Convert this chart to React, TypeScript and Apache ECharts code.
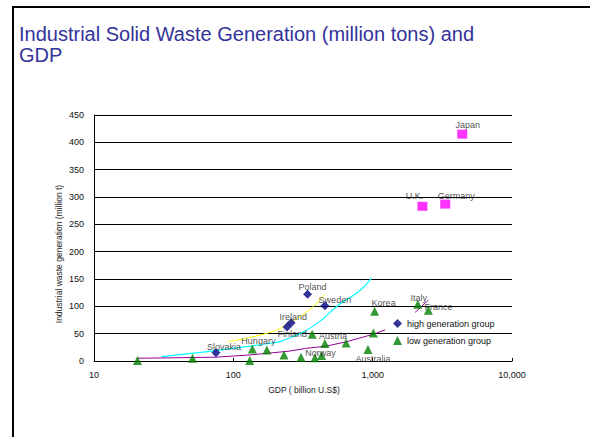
import React, { useEffect, useRef } from "react";
import * as echarts from "echarts";

// ---- data ----
const titleLines = ["Industrial Solid Waste Generation (million tons) and", "GDP"];
const xAxisTitle = "GDP ( billion U.S$)";
const yAxisTitle = "Industrial waste generation (million t)";
const legendHigh = "high generation group";
const legendLow = "low generation group";

// high generation group (navy diamonds)
const highNames = ["Slovakia", "", "Ireland", "Poland", "Sweden"];
const highGdp = [75, 243, 260, 341, 454];
const highWaste = [15, 62, 70, 122, 101];

// low generation group (green triangles)
const lowNames = ["", "", "", "Hungary", "", "", "", "Finland", "", "Norway", "Austria", "", "Australia", "", "Korea", "Italy", "France"];
const lowGdp = [20.5, 51, 131, 137, 174, 231, 306, 368, 385, 430, 454, 644, 925, 1012, 1033, 2109, 2512];
const lowWaste = [1, 5, 1, 22, 20, 11, 7, 49, 6, 10, 32, 33, 21, 51, 91, 104, 93];

// very high (magenta squares)
const topNames = ["Japan", "U.K.", "Germany"];
const topGdp = [4395, 2276, 3318];
const topWaste = [415, 283, 287];

// trend lines
const yellowGdp = [90.6, 190, 251, 349, 454];
const yellowVal = [35, 53.6, 69.5, 93, 122];
const cyanGdp = [30.5, 181, 251, 390, 572, 794, 979];
const cyanVal = [7.9, 32, 41.5, 67, 103, 127, 151];
const purpleGdp = [20.5, 75, 130, 190, 251, 330, 459, 644, 1012, 1230];
const purpleVal = [5, 7, 11, 15, 18, 23, 27, 35, 49, 57];
const purple2Gdp = [2018, 2512];
const purple2Val = [89, 111.5];

const yTicks = { min: 0, max: 450, interval: 50 };
const xRange = { min: 10, max: 10000 };

// label offsets (style only)
const labelOffsets: Record<string, [number, number]> = {
  Japan: [5.5, -9],
  "U.K.": [-8, -10],
  Germany: [11, -8],
  Poland: [5, -7],
  Sweden: [10, -6],
  Ireland: [2, -6],
  Finland: [-20, 0],
  Austria: [8, -8],
  Norway: [-1, -3],
  Korea: [9, -8],
  Italy: [1, -6],
  France: [10, -3],
  Australia: [5, 9],
  Hungary: [6, -8],
  Slovakia: [8, -6],
};

const FONT = "'Liberation Sans', Arial, sans-serif";

function pts(names: string[], xs: number[], ys: number[]) {
  return xs.map((x, i) => {
    const name = names[i];
    return {
      name,
      value: [x, ys[i]],
      label: name
        ? {
            show: true,
            formatter: "{b}",
            position: "inside",
            offset: labelOffsets[name] || [0, 0],
            color: "#222",
            fontSize: 9,
            fontFamily: FONT,
            align: "center",
            verticalAlign: "middle",
          }
        : { show: false },
    };
  });
}

function line(xs: number[], ys: number[]) {
  return xs.map((x, i) => [x, ys[i]]);
}

export default function App() {
  const ref = useRef<HTMLDivElement>(null);
  useEffect(() => {
    const chart = echarts.init(ref.current!, null, { renderer: "svg" });
    const option: any = {
      animation: false,
      backgroundColor: "#ffffff",
      textStyle: { fontFamily: FONT },
      title: {
        text: titleLines.join("\n"),
        left: 19,
        top: 23,
        padding: 0,
        textStyle: {
          color: "#333399",
          fontSize: 20,
          lineHeight: 21,
          fontWeight: "normal",
          fontFamily: FONT,
        },
      },
      legend: {
        data: [legendHigh, legendLow],
        orient: "vertical",
        left: 393,
        top: 319,
        padding: 0,
        itemWidth: 9,
        itemHeight: 9,
        itemGap: 8,
        textStyle: { color: "#111", fontSize: 9, fontFamily: FONT },
      },
      grid: { left: 94, right: 78, top: 115, bottom: 76 },
      xAxis: {
        type: "log",
        logBase: 10,
        min: xRange.min,
        max: xRange.max,
        axisLine: { show: true, onZero: false, lineStyle: { color: "#000", width: 1 } },
        axisTick: { show: true, inside: true, length: 3, lineStyle: { color: "#000" } },
        minorTick: { show: false },
        splitLine: { show: false },
        axisLabel: {
          color: "#111",
          fontSize: 9,
          margin: 9,
          fontFamily: FONT,
          formatter: (v: number) => Math.round(v).toLocaleString("en-US"),
        },
      },
      yAxis: {
        type: "value",
        min: yTicks.min,
        max: yTicks.max,
        interval: yTicks.interval,
        axisLine: { show: true, lineStyle: { color: "#000", width: 1 } },
        axisTick: { show: false },
        splitLine: { show: true, lineStyle: { color: "#000", width: 1 } },
        axisLabel: { color: "#111", fontSize: 9, margin: 10, fontFamily: FONT },
      },
      graphic: [
        {
          type: "line",
          shape: { x1: 12, y1: 7, x2: 590, y2: 7 },
          style: { stroke: "#000", lineWidth: 2 },
        },
        {
          type: "line",
          shape: { x1: 13, y1: 6, x2: 13, y2: 437 },
          style: { stroke: "#000", lineWidth: 2 },
        },
        {
          type: "text",
          x: 59,
          y: 254,
          rotation: Math.PI / 2,
          style: {
            text: yAxisTitle,
            fill: "#222",
            fontSize: 8.5,
            fontFamily: FONT,
            align: "center",
            verticalAlign: "middle",
          },
        },
        {
          type: "text",
          x: 304,
          y: 390,
          style: {
            text: xAxisTitle,
            fill: "#222",
            fontSize: 8.5,
            fontFamily: FONT,
            align: "center",
            verticalAlign: "middle",
          },
        },
      ],
      series: [
        {
          type: "line",
          data: line(yellowGdp, yellowVal),
          smooth: true,
          symbol: "none",
          lineStyle: { color: "#ffff00", width: 1 },
          silent: true,
          z: 1,
        },
        {
          type: "line",
          data: line(cyanGdp, cyanVal),
          smooth: true,
          symbol: "none",
          lineStyle: { color: "#00ffff", width: 1.2 },
          silent: true,
          z: 1,
        },
        {
          type: "line",
          data: line(purpleGdp, purpleVal),
          smooth: false,
          symbol: "none",
          lineStyle: { color: "#990099", width: 1 },
          silent: true,
          z: 1,
        },
        {
          type: "line",
          data: line(purple2Gdp, purple2Val),
          smooth: false,
          symbol: "none",
          lineStyle: { color: "#990099", width: 1 },
          silent: true,
          z: 1,
        },
        {
          name: legendHigh,
          type: "scatter",
          symbol: "diamond",
          symbolSize: 9,
          itemStyle: { color: "#000080" },
          data: pts(highNames, highGdp, highWaste),
          z: 3,
        },
        {
          name: legendLow,
          type: "scatter",
          symbol: "triangle",
          symbolSize: 9,
          itemStyle: { color: "#008000" },
          data: pts(lowNames, lowGdp, lowWaste),
          z: 3,
        },
        {
          name: "top",
          type: "scatter",
          symbol: "rect",
          symbolSize: [10, 9],
          itemStyle: { color: "#ff00ff" },
          data: pts(topNames, topGdp, topWaste),
          z: 3,
        },
      ],
    };
    chart.setOption(option);
    return () => chart.dispose();
  }, []);
  return (
    <div
      ref={ref}
      style={{ position: "absolute", left: 0, top: 0, width: 590, height: 437 }}
    />
  );
}
